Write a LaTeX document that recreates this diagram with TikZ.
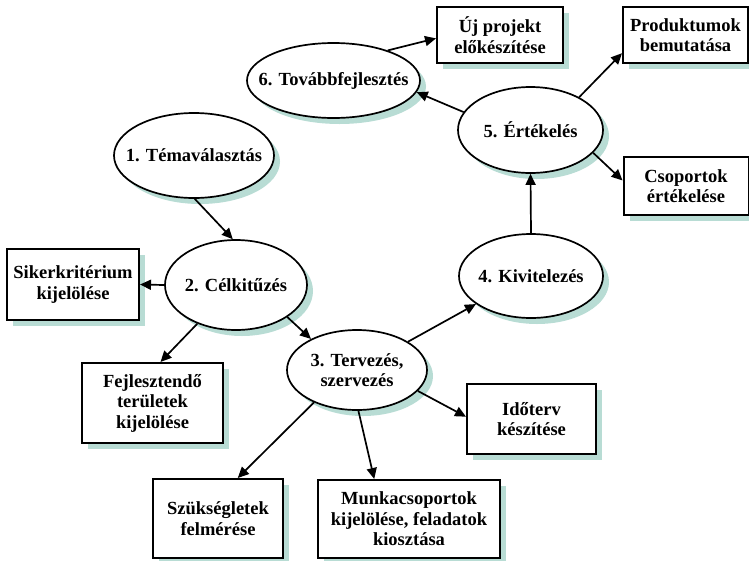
\documentclass[tikz,border=0pt]{standalone}
\usepackage{fontspec}
\setmainfont{Liberation Serif}
\usetikzlibrary{shapes.geometric,shadows,arrows.meta}
\definecolor{shade}{RGB}{184,220,212}
\tikzset{
  txt/.style={font=\fontsize{18.5}{20.5}\selectfont\bfseries, align=center, inner sep=0pt},
  base/.style={draw=black, fill=white, inner sep=0pt,
    drop shadow={shadow xshift=6pt, shadow yshift=-6pt, fill=shade, opacity=1}},
  phase/.style 2 args={base, ellipse, line width=1.7pt, minimum width=#1pt, minimum height=#2pt},
  task/.style 2 args={base, txt, rectangle, line width=2pt, minimum width=#1pt, minimum height=#2pt},
  link/.style={line width=1.7pt, -{Triangle[length=11pt,width=10pt]}}
}
\begin{document}
\begin{tikzpicture}[x=1pt,y=-1pt]
\useasboundingbox (0,0) rectangle (749,560);

% phases (ellipses)
\node[phase={160}{85}, label={[txt]center:{1. Témaválasztás}}] (e1) at (194,155.5) {};
\node[phase={142}{90}, label={[txt]center:{2. Célkitűzés}}] (e2) at (236,285) {};
\node[phase={140}{80}, label={[txt]center:{3. Tervezés,\\szervezés}}] (e3) at (357,370) {};
\node[phase={144}{84}, label={[txt]center:{4. Kivitelezés}}] (e4) at (531,276) {};
\node[phase={145}{86}, label={[txt]center:{5. Értékelés}}] (e5) at (530.5,130) {};
\node[phase={173}{75}, label={[txt]center:{6. Továbbfejlesztés}}] (e6) at (333.5,80.5) {};

% tasks (boxes)
\node[task={126}{56}] (new) at (500,35) {Új projekt\\előkészítése};
\node[task={125}{56}] (prod) at (685.5,35) {Produktumok\\bemutatása};
\node[task={125}{58}] (csop) at (686,186) {Csoportok\\értékelése};
\node[task={132}{71}] (siker) at (73,284.5) {Sikerkritérium\\kijelölése};
\node[task={141}{80}] (fejl) at (152.5,403) {Fejlesztendő\\területek\\kijelölése};
\node[task={129}{70}] (ido) at (531.5,419) {Időterv\\készítése};
\node[task={130}{79}] (szuk) at (218,518.5) {Szükségletek\\felmérése};
\node[task={182}{78}] (munka) at (409,519) {Munkacsoportok\\kijelölése, feladatok\\kiosztása};

% connectors
\draw[link] (e1.271) -- (e2.94);
\draw[link] (e2.west) -- (siker.east);
\draw[link] (e2.225) -- (fejl.79);
\draw[link] (e2.328) -- (e3.146);
\draw[link] (e3.29) -- (e4.207);
\draw[link] (e3.341) -- (ido.178);
\draw[link] (e3.217) -- (szuk.64);
\draw[link] (e3.272) -- (munka.131);
\draw[link] (e4.north) -- (e5.south);
\draw[link] (e5.165) -- (e6.352);
\draw[link] (e6.29) -- (new.183);
\draw[link] (e5.34) -- (prod.196);
\draw[link] (e5.340) -- (csop.175);
\end{tikzpicture}
\end{document}
